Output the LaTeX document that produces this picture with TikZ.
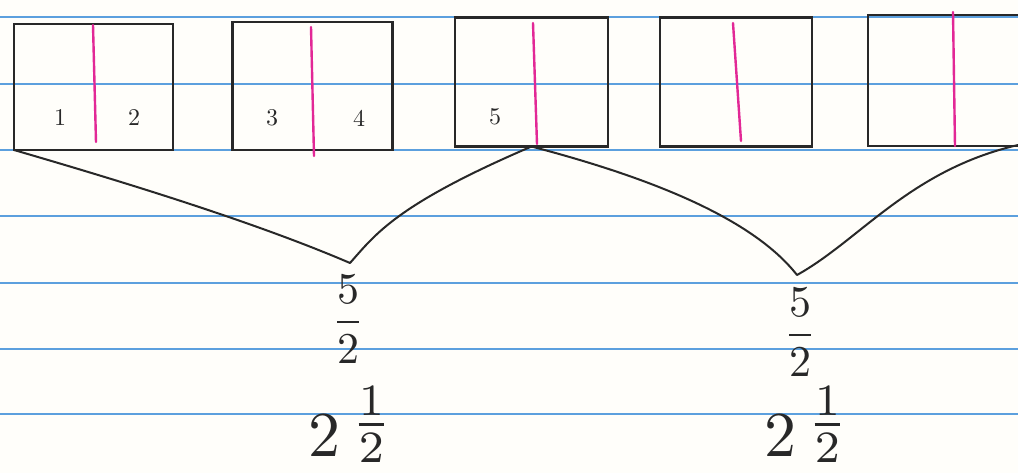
\documentclass[tikz,border=0pt]{standalone}
\begin{document}
\begin{tikzpicture}[x=1pt,y=-1pt,
  ruled/.style={draw=rule, line width=2.2pt},
  box/.style={draw=ink, line width=2.6pt, inner sep=0pt, outer sep=0pt},
  divider/.style={draw=pinkink, line width=2.4pt, line cap=round},
  brace/.style={draw=ink, line width=2pt, line join=round},
  num/.style={text=ink, scale=2.4},
  frac/.style={text=ink, scale=4.4},
  mixed/.style={text=ink, scale=6.4, inner sep=0pt}]
\definecolor{rule}{RGB}{92,160,222}
\definecolor{ink}{RGB}{40,40,40}
\definecolor{pinkink}{RGB}{226,40,150}
\definecolor{paper}{RGB}{255,254,250}
\useasboundingbox (0,0) rectangle (1018,473);
\fill[paper] (0,0) rectangle (1018,473);
% ruled lines
\foreach \y in {17,84,150,216,283,349,414}
  \draw[ruled] (0,\y) -- (1018,\y);
% boxes
\node[box, minimum width=159pt, minimum height=126pt] (b1) at (93.5,87) {};
\node[box, minimum width=160pt, minimum height=128pt] (b2) at (312.5,86) {};
\node[box, minimum width=153pt, minimum height=129pt] (b3) at (531.5,82) {};
\node[box, minimum width=152pt, minimum height=129pt] (b4) at (736,82) {};
\node[box, minimum width=160pt, minimum height=131pt] (b5) at (948,80.5) {};
% dividers
\coordinate (d1t) at (93,25); \coordinate (d1b) at (96,142);
\coordinate (d2t) at (311,27); \coordinate (d2b) at (314,156);
\coordinate (d3t) at (533,23); \coordinate (d3b) at (537,144);
\coordinate (d4t) at (733,23); \coordinate (d4b) at (741,141);
\coordinate (d5t) at (953,12); \coordinate (d5b) at (955,146);
\draw[divider] (d1t) -- (d1b);
\draw[divider] (d2t) -- (d2b);
\draw[divider] (d3t) -- (d3b);
\draw[divider] (d4t) -- (d4b);
\draw[divider] (d5t) -- (d5b);
% labels
\node[num] (n1) at (60,118) {1};
\node[num] (n2) at (134,118) {2};
\node[num] (n3) at (272,118) {3};
\node[num] (n4) at (359,118) {4};
\node[num] (n5) at (495,117) {5};
% braces
\coordinate (v1) at (350,263);
\coordinate (v2) at (797,275);
\coordinate (e5) at (1018,145);
\draw[brace] (b1.south west) .. controls (110,178) and (250,220) .. (v1)
  .. controls (375,235) and (395,205) .. (b3.south);
\draw[brace] (b3.south) .. controls (640,175) and (750,215) .. (v2)
  .. controls (860,240) and (910,170) .. (e5);
% fractions
\node[frac] (f1) at (348,319) {$\displaystyle\frac{5}{2}$};
\node[frac] (f2) at (800,332) {$\displaystyle\frac{5}{2}$};
\node[mixed, anchor=south] (m1) at (350,464) {$2\,\raisebox{0.25em}{$\frac{1}{2}$}$};
\node[mixed, anchor=south] (m2) at (806,464) {$2\,\raisebox{0.25em}{$\frac{1}{2}$}$};
\end{tikzpicture}
\end{document}
